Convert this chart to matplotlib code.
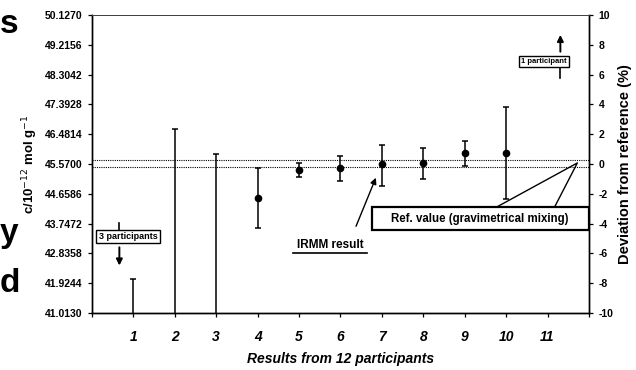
import matplotlib
matplotlib.use("Agg")
import matplotlib.pyplot as plt
from matplotlib.patches import Rectangle

plt.rcParams["font.family"] = ["Liberation Sans", "DejaVu Sans"]

# =====================
# DATA
# =====================

participants = [1, 2, 3, 4, 5, 6, 7, 8, 9, 10]
# deviation from reference value (%), off-scale means are below -10
deviation = [-14.0, -12.0, -11.0, -2.3, -0.4, -0.3, 0.0, 0.05, 0.75, 0.75]
upper = [-7.7, 2.35, 0.7, -0.25, 0.05, 0.55, 1.3, 1.1, 1.55, 3.85]
lower = [-20.0, -25.0, -22.0, -4.3, -0.9, -1.15, -1.5, -1.0, -0.15, -2.35]

ref_band = [0.3, -0.2]

conc_ticks = [41.0130, 41.9244, 42.8358, 43.7472, 44.6586, 45.5700,
              46.4814, 47.3928, 48.3042, 49.2156, 50.1270]
dev_ticks = [-10, -8, -6, -4, -2, 0, 2, 4, 6, 8, 10]
x_ticks = [1, 2, 3, 4, 5, 6, 7, 8, 9, 10, 11]

# =====================
# FIGURE
# =====================

fig = plt.figure(figsize=(6.36, 3.70), dpi=100)
ax = fig.add_axes([0.1447, 0.154, 0.7813, 0.8055])
ax2 = ax.twinx()

ax.set_xlim(0, 12)
ax.set_ylim(conc_ticks[0], conc_ticks[-1])
ax2.set_ylim(-10, 10)

ax.set_yticks(conc_ticks)
ax.set_yticklabels(["%.4f" % v for v in conc_ticks],
                   fontsize=7.5, fontweight="bold")
ax2.set_yticks(dev_ticks)
ax2.set_yticklabels([str(v) for v in dev_ticks],
                    fontsize=7.5, fontweight="bold")
ax.set_xticks(range(0, 13))
ax.set_xticklabels([""] + [str(v) for v in x_ticks] + [""],
                   fontsize=10, fontweight="bold", style="italic")

ax.tick_params(axis="both", direction="out", length=3, width=0.9, pad=4)
ax2.tick_params(axis="y", direction="out", length=3, width=0.9, pad=4)
ax.tick_params(axis="x", pad=9)

for a in (ax, ax2):
    for s in a.spines.values():
        s.set_linewidth(1.0)
    a.spines["top"].set_linewidth(0.7)
    a.spines["top"].set_color("#444444")

ax.set_ylabel("c/10$^{-12}$ mol g$^{-1}$", fontsize=9.5, fontweight="bold",
              labelpad=3)
ax2.set_ylabel("Deviation from reference (%)", fontsize=10.5,
               fontweight="bold", labelpad=3)
ax.set_xlabel("Results from 12 participants", fontsize=10,
              fontweight="bold", style="italic", labelpad=6)

# =====================
# REFERENCE BAND
# =====================

for r in ref_band:
    ax2.axhline(r, color="black", linestyle=(0, (1, 1)), linewidth=0.8)

# =====================
# RESULTS
# =====================

yerr = [[d - l for d, l in zip(deviation, lower)],
        [u - d for d, u in zip(deviation, upper)]]
ax2.errorbar(participants, deviation, yerr=yerr, fmt="o", color="black",
             markersize=4.5, elinewidth=1.1, capsize=2.5, capthick=1.1)

# =====================
# ANNOTATIONS
# =====================

box = dict(boxstyle="square,pad=0.25", fc="white", ec="black", lw=1.0)
arrow = dict(arrowstyle="-|>", color="black", lw=1.4, mutation_scale=9)

ax2.text(0.87, -4.87, "3 participants", fontsize=6.5, fontweight="bold",
         ha="center", va="center", bbox=box, zorder=5)
ax2.plot([0.66, 0.66], [-3.95, -4.4], color="black", lw=1.2)
ax2.annotate("", xy=(0.66, -7.0), xytext=(0.66, -5.4), arrowprops=arrow)

ax2.text(10.92, 6.9, "1 participant", fontsize=5.5, fontweight="bold",
         ha="center", va="center", bbox=box, zorder=5)
ax2.plot([11.31, 11.31], [6.45, 5.75], color="black", lw=1.2)
ax2.annotate("", xy=(11.31, 8.85), xytext=(11.31, 7.35), arrowprops=arrow)

ax2.add_patch(Rectangle((6.76, -4.43), 5.23, 1.54, fc="white", ec="black",
                        lw=1.6, zorder=4))
ax2.text(9.37, -3.66, "Ref. value (gravimetrical mixing)", fontsize=8.3,
         fontweight="bold", ha="center", va="center", zorder=5)
ax2.plot([9.77, 11.72, 11.17], [-2.89, 0.07, -2.89], color="black", lw=1.0)

ax2.text(5.75, -5.45, "IRMM result", fontsize=8.5, fontweight="bold",
         ha="center", va="center")
ax2.plot([4.85, 6.65], [-6.0, -6.0], color="black", lw=1.2)
ax2.annotate("", xy=(6.88, -0.75), xytext=(6.35, -4.35),
             arrowprops=dict(arrowstyle="-|>", color="black", lw=1.0,
                             mutation_scale=9))

# cut-off letters from the neighbouring page text
fig.text(0.0, 0.935, "s", fontsize=24, fontweight="bold", va="center")
fig.text(0.0, 0.37, "y", fontsize=24, fontweight="bold", va="center")
fig.text(0.0, 0.235, "d", fontsize=24, fontweight="bold", va="center")

plt.savefig("out.png", dpi=100)
